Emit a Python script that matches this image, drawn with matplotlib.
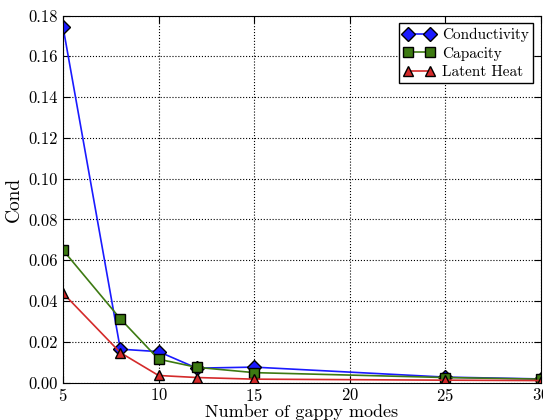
import matplotlib
matplotlib.use('Agg')
import matplotlib.pyplot as plt

plt.rcParams['font.family'] = 'serif'
plt.rcParams['font.serif'] = ['cmr10']
plt.rcParams['mathtext.fontset'] = 'cm'
plt.rcParams['axes.formatter.use_mathtext'] = True
plt.rcParams['xtick.direction'] = 'in'
plt.rcParams['ytick.direction'] = 'in'

# number of gappy modes
modes = [5, 8, 10, 12, 15, 25, 30]

cond_conductivity = [0.1745, 0.0164, 0.0152, 0.0071, 0.0076, 0.0027, 0.0018]
cond_capacity = [0.0650, 0.0313, 0.0115, 0.0075, 0.0049, 0.0025, 0.0017]
cond_latent = [0.0439, 0.0147, 0.0035, 0.0025, 0.0017, 0.0012, 0.0010]

fig = plt.figure(figsize=(5.43, 4.2), dpi=100)
ax = fig.add_axes([0.116, 0.089, 0.88, 0.874])

ax.plot(modes, cond_conductivity, color='#1a1aff', marker='D', markersize=7.5,
        markeredgecolor='black', markerfacecolor='#1a1aff', linewidth=1.2, label='Conductivity')
ax.plot(modes, cond_capacity, color='#3d7a12', marker='s', markersize=7.5,
        markeredgecolor='black', markerfacecolor='#3d7a12', linewidth=1.2, label='Capacity')
ax.plot(modes, cond_latent, color='#d42a2a', marker='^', markersize=7.5,
        markeredgecolor='black', markerfacecolor='#d42a2a', linewidth=1.2, label='Latent Heat')

ax.set_xlim(5, 30)
ax.set_ylim(0, 0.18)
ax.set_yticks([0.00, 0.02, 0.04, 0.06, 0.08, 0.10, 0.12, 0.14, 0.16, 0.18])
ax.set_yticklabels(['%.2f' % v for v in ax.get_yticks()])
ax.tick_params(labelsize=12, top=True, right=True, length=5)
ax.grid(True, color='black', linestyle=':', linewidth=0.8)

ax.set_xlabel('Number of gappy modes', fontsize=13, labelpad=0)
ax.set_ylabel('Cond', fontsize=14)

leg = ax.legend(loc='upper right', fontsize=11, fancybox=False, framealpha=1,
                numpoints=2, handlelength=2, handletextpad=0.5,
                labelspacing=0.3, borderaxespad=0.5, borderpad=0.3)
leg.get_frame().set_edgecolor('black')

fig.savefig('out.png', dpi=100)
